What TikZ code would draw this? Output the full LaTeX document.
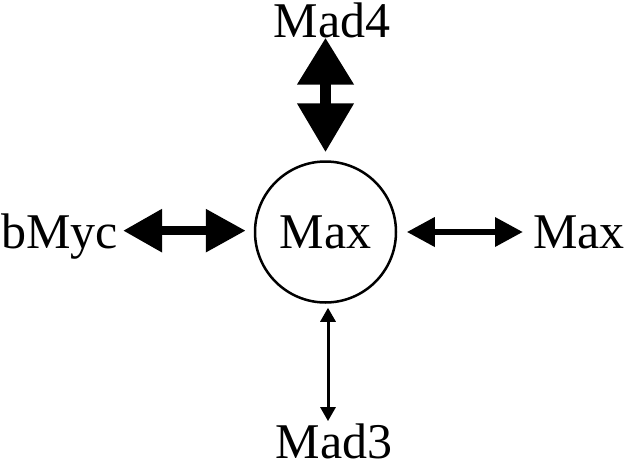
\documentclass[tikz,border=0pt]{standalone}
\usepackage{fontspec}
\setmainfont{Liberation Serif}
\usetikzlibrary{arrows.meta}
\begin{document}
\begin{tikzpicture}[x=1pt,y=-1pt,
  lbl/.style={inner sep=0pt, font=\fontsize{50}{50}\selectfont, text depth=0pt},
  hub/.style={circle, draw, line width=2.5pt, minimum size=141pt, inner sep=0pt, font=\fontsize{50}{50}\selectfont},
  arrtop/.style={line width=11pt, {Triangle[length=47pt,width=54pt]}-{Triangle[length=49pt,width=54pt]}},
  arrleft/.style={line width=9pt, {Triangle[length=39pt,width=41pt]}-{Triangle[length=40pt,width=41pt]}},
  arrright/.style={line width=6.5pt, {Triangle[length=28pt,width=28pt]}-{Triangle[length=28pt,width=28pt]}},
  arrbot/.style={line width=3pt, {Triangle[length=14pt,width=15pt]}-{Triangle[length=14pt,width=15pt]}}]
\useasboundingbox (0,0) rectangle (627,464);
\node[hub] (max) at (325.5,232) {Max};
\node[lbl, anchor=base] (mad4) at (332,37) {Mad4};
\node[lbl, anchor=base west] (bmyc) at (1,248) {bMyc};
\node[lbl, anchor=base west] (maxr) at (533,248) {Max};
\node[lbl, anchor=base] (mad3) at (334,458) {Mad3};
\draw[arrtop, shorten <=0.5pt, shorten >=8pt] (max.north |- mad4.south) -- (max.north);
\draw[arrleft, shorten <=5pt, shorten >=8pt] (bmyc.east) -- (bmyc.east -| max.west);
\draw[arrright, shorten <=9.5pt, shorten >=10pt] (max.east) -- (max.east -| maxr.west);
\draw[arrbot, shorten <=4pt, shorten >=2pt] ([xshift=2.5pt]max.south) -- ([xshift=2.5pt]max.south |- mad3.north);
\end{tikzpicture}
\end{document}
